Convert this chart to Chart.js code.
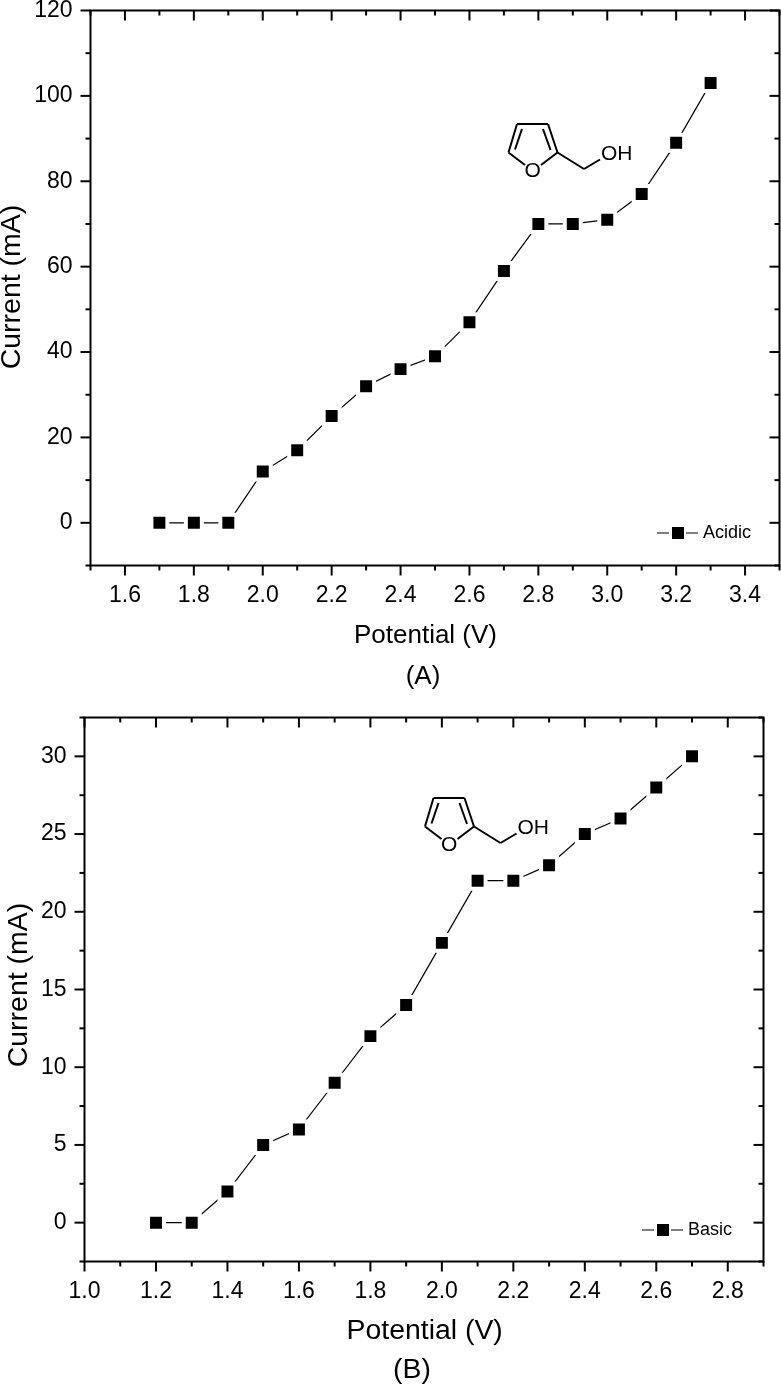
<!DOCTYPE html>
<html>
<head>
<meta charset="utf-8">
<title>Current vs potential</title>
<script src="https://cdn.jsdelivr.net/npm/chart.js@4"></script>
<style>
  html, body { margin: 0; padding: 0; background: #fff; overflow: hidden; }
  #wrap { position: relative; width: 781px; height: 1386px; }
  canvas { position: absolute; left: 0; }
  #chartA { top: 0; }
  #chartB { top: 690px; }
</style>
</head>
<body>
<div id="wrap">
  <canvas id="chartA"></canvas>
  <canvas id="chartB"></canvas>
</div>
<script>
// === Datos ===
const potentialA = [1.7, 1.8, 1.9, 2.0, 2.1, 2.2, 2.3, 2.4, 2.5, 2.6, 2.7, 2.8, 2.9, 3.0, 3.1, 3.2, 3.3];
const currentA = [0, 0, 0, 12, 17, 25, 32, 36, 39, 47, 59, 70, 70, 71, 77, 89, 103];
const potentialB = [1.2, 1.3, 1.4, 1.5, 1.6, 1.7, 1.8, 1.9, 2.0, 2.1, 2.2, 2.3, 2.4, 2.5, 2.6, 2.7];
const currentB = [0, 0, 2, 5, 6, 9, 12, 14, 18, 22, 22, 23, 25, 26, 28, 30];

const xMajorA = [1.6, 1.8, 2.0, 2.2, 2.4, 2.6, 2.8, 3.0, 3.2, 3.4];
const xMinorA = [1.5, 1.7, 1.9, 2.1, 2.3, 2.5, 2.7, 2.9, 3.1, 3.3, 3.5];
const yMajorA = [0, 20, 40, 60, 80, 100, 120];
const yMinorA = [-10, 10, 30, 50, 70, 90, 110];
const xMajorB = [1.0, 1.2, 1.4, 1.6, 1.8, 2.0, 2.2, 2.4, 2.6, 2.8];
const xMinorB = [1.1, 1.3, 1.5, 1.7, 1.9, 2.1, 2.3, 2.5, 2.7, 2.9];
const yMajorB = [0, 5, 10, 15, 20, 25, 30];
const yMinorB = [-2.5, 2.5, 7.5, 12.5, 17.5, 22.5, 27.5, 32.5];

const FONT = '"Liberation Sans", Arial, sans-serif';

// marco con ticks: afuera abajo/izquierda, adentro arriba/derecha
function drawFrame(chart, cfg) {
  const { ctx, chartArea: a, scales } = chart;
  ctx.save();
  ctx.strokeStyle = "#000";
  ctx.lineWidth = 2;
  ctx.strokeRect(a.left, a.top, a.right - a.left, a.bottom - a.top);
  const tick = (x1, y1, x2, y2) => {
    ctx.beginPath();
    ctx.moveTo(x1, y1);
    ctx.lineTo(x2, y2);
    ctx.stroke();
  };
  const side = (vals, len) => {
    vals.forEach(v => {
      const x = scales.x.getPixelForValue(v);
      tick(x, a.bottom, x, a.bottom + len);
      tick(x, a.top, x, a.top + len);
    });
  };
  const vert = (vals, len) => {
    vals.forEach(v => {
      const y = scales.y.getPixelForValue(v);
      tick(a.left, y, a.left - len, y);
      tick(a.right, y, a.right - len, y);
    });
  };
  side(cfg.xMajor, 10);
  side(cfg.xMinor, 5);
  vert(cfg.yMajor, 10);
  vert(cfg.yMinor, 5);
  ctx.restore();
}

function drawLabels(chart, cfg) {
  const { ctx } = chart;
  ctx.save();
  ctx.fillStyle = "#000";
  ctx.textAlign = "center";
  ctx.textBaseline = "middle";
  ctx.font = cfg.xTitleSize + "px " + FONT;
  ctx.fillText("Potential (V)", cfg.xTitle[0], cfg.xTitle[1]);
  ctx.fillText(cfg.caption, cfg.captionAt[0], cfg.captionAt[1]);
  ctx.translate(cfg.yTitle[0], cfg.yTitle[1]);
  ctx.rotate(-Math.PI / 2);
  ctx.font = "28.5px " + FONT;
  ctx.fillText("Current (mA)", 0, 0);
  ctx.restore();
}

function drawLegend(chart, cfg) {
  const { ctx } = chart;
  const [cx, cy] = cfg.legend;
  ctx.save();
  ctx.strokeStyle = "#000";
  ctx.lineWidth = 1;
  ctx.beginPath();
  ctx.moveTo(cx - 21, cy);
  ctx.lineTo(cx - 9, cy);
  ctx.moveTo(cx + 8, cy);
  ctx.lineTo(cx + 20, cy);
  ctx.stroke();
  ctx.fillStyle = "#000";
  ctx.fillRect(cx - 6, cy - 6, 12, 12);
  ctx.font = "18px " + FONT;
  ctx.textAlign = "left";
  ctx.textBaseline = "middle";
  ctx.fillText(chart.data.datasets[0].label, cx + 25, cy);
  ctx.restore();
}

// alcohol furfurílico
function drawMolecule(chart, cfg) {
  const { ctx } = chart;
  const [ox, oy] = cfg.molecule;
  const seg = (x1, y1, x2, y2) => {
    ctx.moveTo(ox + x1, oy + y1);
    ctx.lineTo(ox + x2, oy + y2);
  };
  ctx.save();
  ctx.strokeStyle = "#000";
  ctx.lineWidth = 2;
  ctx.lineJoin = "miter";
  ctx.beginPath();
  seg(8.5, 52.5, 17, 24);
  seg(17, 24, 48, 24);
  seg(48, 24, 57.5, 52.5);
  seg(8.5, 52.5, 25, 65);
  seg(57.5, 52.5, 41, 65);
  seg(22, 29, 15, 49.5);
  seg(43, 29, 50.5, 50);
  seg(57.5, 52.5, 84, 69);
  seg(84, 69, 100, 59.5);
  ctx.stroke();
  ctx.fillStyle = "#000";
  ctx.font = "21px " + FONT;
  ctx.textAlign = "center";
  ctx.textBaseline = "middle";
  ctx.fillText("O", ox + 32.7, oy + 71);
  ctx.fillText("OH", ox + 116.7, oy + 54.5);
  ctx.restore();
}

const adornos = {
  id: "adornos",
  afterDraw(chart, args, opts) {
    drawFrame(chart, opts);
    drawLabels(chart, opts);
    drawLegend(chart, opts);
    drawMolecule(chart, opts);
  }
};

function buildChart(id, w, h, pad, spec) {
  const canvas = document.getElementById(id);
  canvas.width = w;
  canvas.height = h;
  canvas.style.width = w + "px";
  canvas.style.height = h + "px";
  return new Chart(canvas, {
    type: "line",
    data: {
      datasets: [{
        label: spec.label,
        data: spec.xs.map((x, i) => ({ x: x, y: spec.ys[i] })),
        borderColor: "#000",
        borderWidth: 1.2,
        tension: 0,
        pointStyle: "rect",
        pointRadius: 11.3,
        pointHoverRadius: 11.3,
        pointBackgroundColor: "#000",
        pointBorderColor: "#fff",
        pointBorderWidth: 4,
        clip: false
      }]
    },
    plugins: [adornos],
    options: {
      responsive: false,
      animation: false,
      layout: { autoPadding: false, padding: { top: pad.top, right: pad.right, bottom: 0, left: 0 } },
      events: [],
      plugins: {
        legend: { display: false },
        tooltip: { enabled: false },
        adornos: spec.deco
      },
      scales: {
        x: {
          type: "linear",
          min: spec.xRange[0],
          max: spec.xRange[1],
          afterBuildTicks: s => { s.ticks = spec.deco.xMajor.map(v => ({ value: v })); },
          afterFit: s => {
            s.height = pad.xAxis;
            s.paddingLeft = 0;
            s.paddingRight = 0;
          },
          grid: { display: false },
          border: { display: false },
          ticks: {
            autoSkip: false,
            maxRotation: 0,
            padding: 8,
            color: "#000",
            font: { family: FONT, size: 23 },
            callback: v => v.toFixed(1)
          }
        },
        y: {
          min: spec.yRange[0],
          max: spec.yRange[1],
          afterBuildTicks: s => { s.ticks = spec.deco.yMajor.map(v => ({ value: v })); },
          afterFit: s => {
            s.width = pad.yAxis;
            s.paddingTop = 0;
            s.paddingBottom = 0;
          },
          grid: { display: false },
          border: { display: false },
          ticks: {
            autoSkip: false,
            padding: 10,
            color: "#000",
            font: { family: FONT, size: 23 }
          }
        }
      }
    }
  });
}

buildChart("chartA", 781, 690, { top: 10.5, right: 1.5, yAxis: 90.5, xAxis: 124.5 }, {
  label: "Acidic",
  xs: potentialA,
  ys: currentA,
  xRange: [1.5, 3.5],
  yRange: [-10, 120],
  deco: {
    xMajor: xMajorA, xMinor: xMinorA, yMajor: yMajorA, yMinor: yMinorA,
    xTitle: [425.5, 636], xTitleSize: 26, yTitle: [12, 287], caption: "(A)", captionAt: [423, 677],
    legend: [678, 533], molecule: [500, 100]
  }
});

buildChart("chartB", 781, 696, { top: 27.5, right: 17.5, yAxis: 84.5, xAxis: 124.5 }, {
  label: "Basic",
  xs: potentialB,
  ys: currentB,
  xRange: [1.0, 2.9],
  yRange: [-2.5, 32.5],
  deco: {
    xMajor: xMajorB, xMinor: xMinorB, yMajor: yMajorB, yMinor: yMinorB,
    xTitle: [424.7, 641], xTitleSize: 28.4, yTitle: [19.5, 295], caption: "(B)", captionAt: [412, 680],
    legend: [663, 540], molecule: [416.5, 84]
  }
});
</script>
</body>
</html>
